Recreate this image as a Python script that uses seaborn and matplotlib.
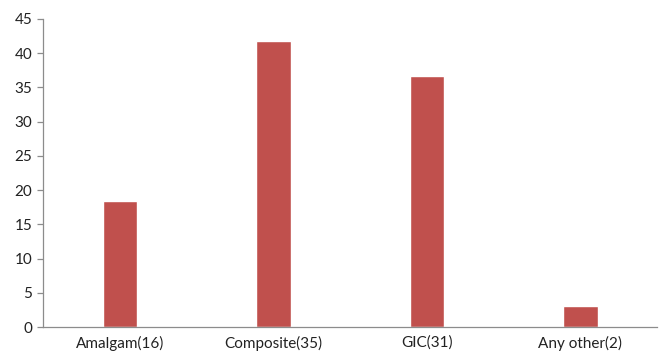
import matplotlib
matplotlib.use("Agg")
import matplotlib.pyplot as plt
import seaborn as sns
import pandas as pd
from matplotlib.ticker import FixedLocator, MultipleLocator

categories = ["Amalgam(16)", "Composite(35)", "GIC(31)", "Any other(2)"]
values = [18.4, 41.7, 36.6, 3.1]

df = pd.DataFrame({"material": categories, "percent": values})

sns.set_theme(style="white")
plt.rcParams["font.family"] = ["Lato", "DejaVu Sans"]

fig = plt.figure(figsize=(6.59, 3.56), dpi=100)
ax = fig.add_axes([0.066, 0.081, 0.931, 0.866])

sns.barplot(data=df, x="material", y="percent", color="#C0504D",
            width=0.225, saturation=1, ax=ax)

ax.set_xlim(-0.5, len(categories) - 0.5)
ax.set_ylim(0, 45)
ax.yaxis.set_major_locator(MultipleLocator(5))
ax.set_xlabel("")
ax.set_ylabel("")

for side in ("top", "right"):
    ax.spines[side].set_visible(False)
for side in ("left", "bottom"):
    ax.spines[side].set_color("#8c8c8c")
    ax.spines[side].set_linewidth(0.9)

# category boundaries carry the tick marks on the x axis
ax.xaxis.set_minor_locator(FixedLocator([i - 0.5 for i in range(len(categories) + 1)]))
ax.tick_params(axis="x", which="major", length=0, pad=6, labelsize=11, colors="#222222")
ax.tick_params(axis="x", which="minor", length=4, width=0.9, color="#8c8c8c", direction="out")
ax.tick_params(axis="y", which="major", length=4, width=0.9, color="#8c8c8c",
               direction="out", labelsize=11, labelcolor="#222222", left=True, pad=4)

fig.savefig("out.png", dpi=100)
